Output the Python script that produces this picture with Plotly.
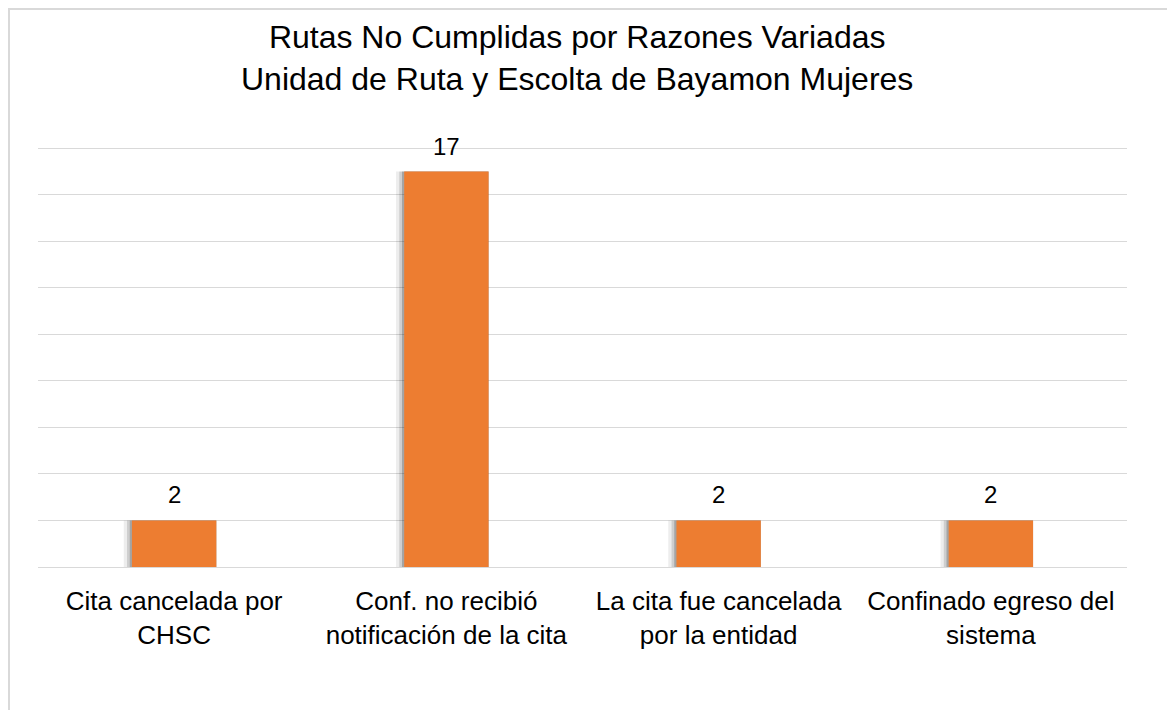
import plotly.graph_objects as go

categories = [
    "Cita cancelada por CHSC",
    "Conf. no recibió notificación de la cita",
    "La cita fue cancelada por la entidad",
    "Confinado egreso del sistema",
]
tick_labels = [
    "Cita cancelada por<br>CHSC",
    "Conf. no recibió<br>notificación de la cita",
    "La cita fue cancelada<br>por la entidad",
    "Confinado egreso del<br>sistema",
]
values = [2, 17, 2, 2]
title_lines = [
    "Rutas No Cumplidas por Razones Variadas",
    "Unidad de Ruta y Escolta de Bayamon Mujeres",
]
y_grid = [0, 2, 4, 6, 8, 10, 12, 14, 16, 18]

FONT = "Liberation Sans, Arial, sans-serif"
BAR_W = 0.31

# page body has an 8px margin: figure is offset by 8px in the window
W, H = 1167, 702
L, R, T, B = 30, 48, 138, 143
PW, PH = W - L - R, H - T - B

fig = go.Figure()
# soft shadow layers to the left of bars
for extra, alpha in [(0.03, 0.07), (0.018, 0.13), (0.008, 0.2)]:
    fig.add_trace(go.Bar(
        x=categories, y=values, width=BAR_W + extra, offset=-BAR_W / 2 - extra,
        marker=dict(color=f"rgba(0,0,0,{alpha})", line=dict(width=0)),
        hoverinfo="skip", showlegend=False,
    ))
fig.add_trace(go.Bar(
    x=categories, y=values, width=BAR_W, offset=-BAR_W / 2,
    marker=dict(color="#ED7D31", line=dict(width=0)),
    showlegend=False,
))

for c, v in zip(categories, values):
    fig.add_annotation(
        x=c, y=v, text=str(v), showarrow=False, yanchor="bottom",
        yshift=10, font=dict(family=FONT, size=24, color="#000000"),
    )

# chart title
fig.add_annotation(
    text="<br>".join(title_lines), showarrow=False,
    xref="paper", yref="paper",
    x=(577 - 8 - L) / PW, xanchor="center",
    y=1 + (T - 9) / PH, yanchor="top",
    font=dict(family=FONT, size=32, color="#000000"),
)

fig.update_layout(
    width=W, height=H,
    margin=dict(l=L, r=R, t=T, b=B),
    paper_bgcolor="white", plot_bgcolor="white",
    barmode="overlay",
    xaxis=dict(
        tickmode="array", tickvals=categories, ticktext=tick_labels,
        tickfont=dict(family=FONT, size=26, color="#000000"),
        showline=True, linecolor="#d9d9d9", linewidth=1.3,
        showgrid=False, ticks="", ticklabelstandoff=11,
    ),
    yaxis=dict(
        range=[0, 18.1], tickmode="array", tickvals=y_grid,
        showticklabels=False,
        showgrid=True, gridcolor="#d9d9d9", gridwidth=1.3,
        zeroline=False, showline=False, ticks="",
    ),
    shapes=[dict(
        type="rect", xref="paper", yref="paper",
        x0=(1 - L) / PW, x1=(1190 - 8 - L) / PW,
        y0=-(H + 20 - T - PH) / PH, y1=1 + (T - 1) / PH,
        line=dict(color="#d9d9d9", width=2), fillcolor="rgba(0,0,0,0)",
        layer="below",
    )],
)

fig.write_html("out.html")
